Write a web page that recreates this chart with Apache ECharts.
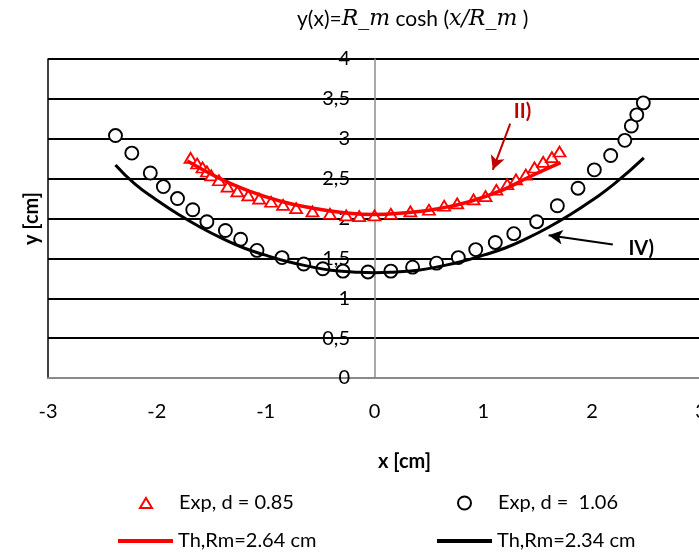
<!DOCTYPE html>
<html>
<head>
<meta charset="utf-8">
<script src="https://cdn.jsdelivr.net/npm/echarts@6/dist/echarts.min.js"></script>
<style>html,body{margin:0;padding:0;background:#fff}#c{width:699px;height:553px}</style>
</head>
<body>
<div id="c"></div>
<script>
// ---- data ----
const xTicks = [-3, -2, -1, 0, 1, 2, 3];
const yTicks = [0, 0.5, 1, 1.5, 2, 2.5, 3, 3.5, 4];

const expRedName = 'Exp, d = 0.85';
const expRedX = [-1.69,-1.63,-1.58,-1.54,-1.50,-1.43,-1.35,-1.26,-1.16,-1.06,-0.95,-0.84,-0.72,-0.57,-0.41,-0.26,-0.14,0.00,0.15,0.33,0.50,0.64,0.76,0.91,1.02,1.12,1.22,1.30,1.39,1.47,1.55,1.63,1.70];
const expRedY = [2.76,2.69,2.64,2.59,2.54,2.48,2.40,2.34,2.29,2.25,2.21,2.17,2.13,2.09,2.06,2.04,2.03,2.04,2.06,2.09,2.11,2.16,2.19,2.24,2.28,2.36,2.43,2.49,2.55,2.64,2.71,2.77,2.84];

const expBlackName = 'Exp, d =  1.06';
const expBlackX = [-2.38,-2.23,-2.06,-1.94,-1.81,-1.67,-1.54,-1.37,-1.23,-1.08,-0.85,-0.65,-0.475,-0.29,-0.06,0.15,0.35,0.57,0.77,0.93,1.11,1.28,1.49,1.68,1.87,2.02,2.17,2.30,2.36,2.41,2.47];
const expBlackY = [3.04,2.82,2.57,2.40,2.25,2.11,1.96,1.85,1.74,1.60,1.51,1.43,1.37,1.34,1.33,1.34,1.39,1.44,1.51,1.61,1.70,1.81,1.96,2.16,2.38,2.61,2.79,2.98,3.16,3.30,3.45];

const thRedName = 'Th,Rm=2.64 cm';
const thRedX = [-1.72,-1.42,-1.18,-0.87,-0.57,-0.26,0.00,0.26,0.57,0.87,1.18,1.42,1.71];
const thRedY = [2.72,2.50,2.36,2.22,2.13,2.07,2.05,2.07,2.12,2.21,2.36,2.52,2.70];

const thBlackName = 'Th,Rm=2.34 cm';
const thBlackX = [-2.38,-2.2,-2.0,-1.8,-1.6,-1.4,-1.2,-1.0,-0.8,-0.6,-0.4,-0.2,0,0.2,0.4,0.6,0.8,1.0,1.2,1.4,1.6,1.8,2.0,2.2,2.475];
const thBlackY = [2.67,2.43,2.23,2.05,1.89,1.75,1.63,1.54,1.46,1.40,1.35,1.33,1.32,1.33,1.35,1.40,1.46,1.54,1.63,1.75,1.89,2.05,2.23,2.43,2.76];

// annotation anchors (data coordinates)
const annII = {text: 'II)', label: [1.36, 3.34], from: [1.247, 3.19], to: [1.087, 2.61]};
const annIV = {text: 'IV)', label: [2.45, 1.625], from: [2.19, 1.675], to: [1.60, 1.79]};

const zip = (xs, ys) => xs.map((x, i) => [x, ys[i]]);

const chart = echarts.init(document.getElementById('c'), null, {renderer: 'canvas'});
const FONT = 'Lato';
const legendText = {fontFamily: FONT, fontSize: 20, color: '#000', lineHeight: 20};
const option = {
  animation: false,
  backgroundColor: '#fff',
  textStyle: {fontFamily: FONT},
  title: {
    text: '{a|y(x)=}{b|R_m}{a| cosh (}{b|x/R_m}{a| )}',
    left: 297, top: 8, padding: 0,
    textStyle: {
      fontWeight: 'normal', fontSize: 21,
      rich: {
        a: {fontFamily: FONT, fontSize: 21, fontWeight: 'normal', color: '#000'},
        b: {fontFamily: 'DejaVu Serif', fontStyle: 'italic', fontWeight: 'normal', fontSize: 22, color: '#000'}
      }
    }
  },
  grid: {left: 48, right: -2, top: 59, bottom: 175, outerBoundsMode: 'none', containLabel: false},
  xAxis: {
    type: 'value', min: xTicks[0], max: xTicks[xTicks.length - 1], interval: 1,
    name: 'x [cm]', nameLocation: 'middle', nameGap: 74,
    nameTextStyle: {fontFamily: FONT, fontSize: 20, fontWeight: 'bold', color: '#000', padding: [0, 0, 0, 60]},
    axisLine: {show: true, onZero: false, lineStyle: {color: '#898989', width: 2}},
    axisTick: {show: false},
    splitLine: {show: false},
    axisLabel: {fontSize: 20, color: '#000', margin: 24, fontFamily: FONT}
  },
  yAxis: [{
    type: 'value', min: yTicks[0], max: yTicks[yTicks.length - 1], interval: 0.5,
    position: 'left',
    name: 'y [cm]', nameLocation: 'middle', nameGap: 6,
    nameTextStyle: {fontFamily: FONT, fontSize: 20, fontWeight: 'bold', color: '#000'},
    axisLine: {show: true, onZero: false, lineStyle: {color: '#000', width: 1.5}},
    axisTick: {show: false}, axisLabel: {show: false},
    splitLine: {show: true, showMinLine: false, lineStyle: {color: '#000', width: 1.8}}
  }, {
    type: 'value', min: yTicks[0], max: yTicks[yTicks.length - 1], interval: 0.5,
    position: 'left', offset: -327,
    axisLine: {show: true, onZero: false, lineStyle: {color: '#8c8c8c', width: 1.5}},
    axisTick: {show: false},
    splitLine: {show: false},
    axisLabel: {fontSize: 20, color: '#000', margin: 25, fontFamily: FONT,
      formatter: v => String(v).replace('.', ',')}
  }],
  legend: [
    {data: [{name: expRedName, icon: 'triangle'}], left: 139, top: 493, padding: 0, itemWidth: 12, itemHeight: 10,
     selectedMode: false, itemStyle: {opacity: 1}, textStyle: Object.assign({padding: [0, 0, 0, 22]}, legendText)},
    {data: [{name: expBlackName, icon: 'circle'}], left: 457, top: 493, padding: 0, itemWidth: 13, itemHeight: 13,
     selectedMode: false, itemStyle: {opacity: 1}, textStyle: Object.assign({padding: [0, 0, 0, 22]}, legendText)},
    {data: [{name: thRedName, icon: 'rect'}], left: 118, top: 531, padding: 0, itemWidth: 55, itemHeight: 4,
     selectedMode: false, textStyle: legendText},
    {data: [{name: thBlackName, icon: 'rect'}], left: 437, top: 531, padding: 0, itemWidth: 55, itemHeight: 4,
     selectedMode: false, textStyle: legendText}
  ],
  series: [
    {
      name: expRedName, type: 'scatter', data: zip(expRedX, expRedY),
      symbol: 'triangle', symbolSize: [12, 10], z: 3,
      itemStyle: {color: '#fff', borderColor: '#ff0000', borderWidth: 1.8, opacity: 1},
      silent: true
    },
    {
      name: expBlackName, type: 'scatter', data: zip(expBlackX, expBlackY),
      symbol: 'circle', symbolSize: 13, z: 3,
      itemStyle: {color: '#fff', borderColor: '#000', borderWidth: 1.9, opacity: 1},
      silent: true
    },
    {
      name: thRedName, type: 'line', data: zip(thRedX, thRedY), smooth: true,
      symbol: 'none', z: 4, silent: true,
      lineStyle: {color: '#ff0000', width: 3.5}, itemStyle: {color: '#ff0000'},
      markLine: {
        silent: true, symbol: ['none', 'arrow'], symbolSize: [11, 14], animation: false,
        lineStyle: {color: '#c00000', width: 2, type: 'solid'}, label: {show: false},
        data: [[{coord: annII.from}, {coord: annII.to}]]
      },
      markPoint: {
        silent: true, symbol: 'circle', symbolSize: 0, animation: false,
        label: {show: true, position: 'inside', formatter: annII.text, fontFamily: FONT, fontSize: 20, fontWeight: 'bold', color: '#c00000'},
        data: [{coord: annII.label}]
      }
    },
    {
      name: thBlackName, type: 'line', data: zip(thBlackX, thBlackY), smooth: true,
      symbol: 'none', z: 4, silent: true,
      lineStyle: {color: '#000', width: 3}, itemStyle: {color: '#000'},
      markLine: {
        silent: true, symbol: ['none', 'arrow'], symbolSize: [11, 14], animation: false,
        lineStyle: {color: '#000', width: 2, type: 'solid'}, label: {show: false},
        data: [[{coord: annIV.from}, {coord: annIV.to}]]
      },
      markPoint: {
        silent: true, symbol: 'circle', symbolSize: 0, animation: false,
        label: {show: true, position: 'inside', formatter: annIV.text, fontFamily: FONT, fontSize: 20, fontWeight: 'bold', color: '#000'},
        data: [{coord: annIV.label}]
      }
    }
  ]
};
chart.setOption(option);
</script>
</body>
</html>
